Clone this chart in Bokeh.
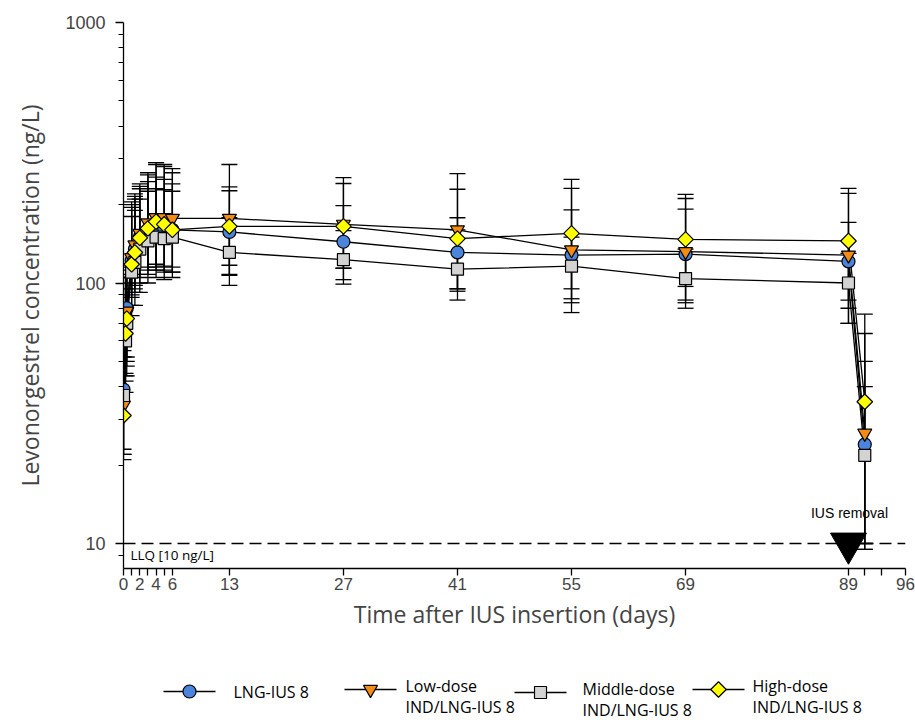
import numpy as np
from bokeh.plotting import figure
from bokeh.models import (ColumnDataSource, Whisker, TeeHead, Span, Label,
                          FixedTicker, Range1d)
from bokeh.layouts import column
from bokeh.core.properties import value
from bokeh.embed import file_html
from bokeh.resources import INLINE

# ---------------- data ----------------
days = [0, 0.25, 0.4, 1, 1.4, 2, 3, 4, 5, 6, 13, 27, 41, 55, 69, 89, 91]

lng_mean = [39, 70, 80, 122, 135, 150, 160, 165, 162, 160, 157, 144, 131, 128, 129, 121, 24]
lng_hi = [60, 108, 118, 195, 210, 230, 245, 255, 250, 240, 226, 198, 178, 191, 192, 171, 50]
lng_lo = [23, 44, 50, 82, 92, 100, 108, 112, 110, 110, 107, 103, 95, 87, 86, 70, 10]

low_mean = [34, 68, 78, 125, 140, 155, 170, 178, 178, 177, 177, 168, 160, 134, 132, 128, 26.5]
low_hi = [52, 100, 112, 200, 220, 235, 260, 290, 285, 275, 234, 241, 263, 231, 211, 221, 64]
low_lo = [22, 45, 52, 90, 98, 108, 115, 118, 116, 115, 117, 114, 95, 84, 84, 80, 9.5]

mid_mean = [37, 60, 70, 110, 120, 135, 145, 150, 148, 150, 131, 123, 113, 116, 104, 100, 21.8]
mid_hi = [58, 95, 105, 180, 190, 210, 225, 230, 228, 225, 178, 159, 160, 150, 135, 130, 40]
mid_lo = [22, 38, 44, 75, 82, 92, 100, 105, 103, 105, 98, 99, 86, 77, 80, 70, 9.5]

high_mean = [31, 64, 73, 118, 131, 149, 162, 172, 168, 160, 165, 165, 148, 155, 147, 145, 35]
high_hi = [55, 105, 115, 205, 215, 240, 265, 285, 280, 265, 285, 254, 229, 250, 219, 231, 76]
high_lo = [21, 42, 48, 88, 95, 105, 112, 115, 112, 110, 108, 114, 93, 95, 97, 86, 10]

series_names = ["LNG-IUS 8", "Low-dose\nIND/LNG-IUS 8", "Middle-dose\nIND/LNG-IUS 8",
                "High-dose\nIND/LNG-IUS 8"]

x_ticks = [0, 1, 2, 3, 4, 5, 6, 13, 27, 41, 55, 69, 89, 91, 93, 96]
x_labels = {0: "0", 2: "2", 4: "4", 6: "6", 13: "13", 27: "27", 41: "41",
            55: "55", 69: "69", 89: "89", 96: "96"}
y_ticks = [10, 100, 1000]

llq = 10
removal_day = 89

# ---------------- style ----------------
colors = ["#4A84DC", "#F28C14", "#D3D3D3", "#FFFF00"]
markers = ["circle", "inverted_triangle", "square", "square"]
sizes = [13, 14, 12, 11]
angles = [0, 0, 0, np.pi / 4]

TICK_FONT = "Liberation Sans"
TEXT_FONT = "Open Sans"

W = 915
FRAME_L, FRAME_R = 123, 905
MAIN_H = 648

p = figure(width=W, height=MAIN_H, x_range=Range1d(0, 96),
           y_range=Range1d(10 ** (1 - 25 / 260.5), 1000), y_axis_type="log",
           output_backend="svg", toolbar_location=None,
           min_border_left=FRAME_L, min_border_right=W - FRAME_R, min_border_top=22,
           min_border_bottom=80)
p.grid.visible = False
p.outline_line_color = None
p.background_fill_color = "white"

series = [
    (lng_mean, lng_hi, lng_lo),
    (low_mean, low_hi, low_lo),
    (mid_mean, mid_hi, mid_lo),
    (high_mean, high_hi, high_lo),
]

sources = []
for (m, hi, lo) in series:
    src = ColumnDataSource(dict(t=days, m=m, hi=hi, lo=lo))
    sources.append(src)
    w = Whisker(source=src, base="t", upper="hi", lower="lo", dimension="height",
                line_color="black", line_width=1.3,
                upper_head=TeeHead(size=16, line_color="black", line_width=1.3),
                lower_head=TeeHead(size=16, line_color="black", line_width=1.3))
    p.add_layout(w)

for src in sources:
    p.line("t", "m", source=src, line_color="black", line_width=1.3)

for src, c, mk, s, a in zip(sources, colors, markers, sizes, angles):
    p.scatter("t", "m", source=src, marker=mk, size=s, angle=a,
              fill_color=c, line_color="black", line_width=1.2)

# LLQ line
p.add_layout(Span(location=llq, dimension="width", line_color="black",
                  line_width=1.3, line_dash="12 6"))
p.add_layout(Label(x=0, y=llq, x_offset=7, y_offset=-2, text="LLQ [10 ng/L]",
                   text_baseline="top", text_font=TEXT_FONT,
                   text_font_size="13.5px", text_color="black"))

# IUS removal marker
p.scatter(x=[removal_day], y=[llq], marker="inverted_triangle", size=36,
          fill_color="black", line_color="black")
p.add_layout(Label(x=removal_day, y=llq, x_offset=1, y_offset=31,
                   text="IUS removal", text_align="center",
                   text_baseline="middle", text_font=TICK_FONT,
                   text_font_size="14px", text_color="black"))

# axes
xa = p.xaxis[0]
xa.ticker = FixedTicker(ticks=x_ticks)
xa.major_label_overrides = {t: x_labels.get(t, "") for t in x_ticks}
xa.axis_label = "Time after IUS insertion (days)"
xa.axis_label_text_font = TEXT_FONT
xa.axis_label_text_font_size = "23px"
xa.axis_label_text_font_style = "normal"
xa.axis_label_standoff = 5
xa.major_label_text_font = TICK_FONT
xa.major_label_text_font_size = "17px"
xa.major_label_standoff = 2
xa.major_tick_out = 7
xa.major_tick_in = 0
xa.minor_tick_out = 0
xa.axis_line_width = 1.3
xa.major_tick_line_width = 1.3

minor = [k * 10 ** e for e in (0, 1, 2) for k in range(2, 10) if 8 < k * 10 ** e < 1000]
ya = p.yaxis[0]
ya.ticker = FixedTicker(ticks=y_ticks, minor_ticks=minor)
ya.major_label_overrides = {t: str(t) for t in y_ticks}
ya.axis_label = "Levonorgestrel concentration (ng/L)"
ya.axis_label_text_font = TEXT_FONT
ya.axis_label_text_font_size = "23px"
ya.axis_label_text_font_style = "normal"
ya.axis_label_standoff = 16
ya.major_label_text_font = TICK_FONT
ya.major_label_text_font_size = "18px"
ya.major_label_standoff = 10
ya.major_tick_out = 8
ya.major_tick_in = 0
ya.minor_tick_out = 5
ya.minor_tick_in = 0
ya.axis_line_width = 1.3
ya.major_tick_line_width = 1.3

# ---------------- legend (separate strip, data units = page pixels) ----------------
LEG_H = 720 - MAIN_H
lf = figure(width=W, height=LEG_H, x_range=Range1d(FRAME_L, FRAME_R),
            y_range=Range1d(720, MAIN_H),
            output_backend="svg", toolbar_location=None,
            min_border_left=FRAME_L, min_border_right=W - FRAME_R,
            min_border_top=0, min_border_bottom=0)
lf.axis.visible = False
lf.grid.visible = False
lf.outline_line_color = None

leg_marker_x = [189, 370, 540, 718]
leg_text_x = [233, 405, 582, 752]
leg_y = [691, 689, 692, 689]
for i, name in enumerate(series_names):
    mx = leg_marker_x[i]
    lf.line([mx - 26, mx + 26], [leg_y[i], leg_y[i]], line_color="black", line_width=1.3)
    lf.scatter([mx], [leg_y[i]], marker=markers[i], size=sizes[i], angle=angles[i],
               fill_color=colors[i], line_color="black", line_width=1.2)
    lines = name.split("\n")
    if len(lines) == 1:
        ys = [leg_y[i]]
    else:
        ys = [leg_y[i] - 4, leg_y[i] + 17]
    lf.text(x=[leg_text_x[i]] * len(lines), y=ys, text=lines,
            text_font=value(TEXT_FONT), text_font_size="16px",
            text_baseline="middle", text_color="black")

layout = column(p, lf, spacing=0)
open("out.html", "w").write(file_html(layout, INLINE))
